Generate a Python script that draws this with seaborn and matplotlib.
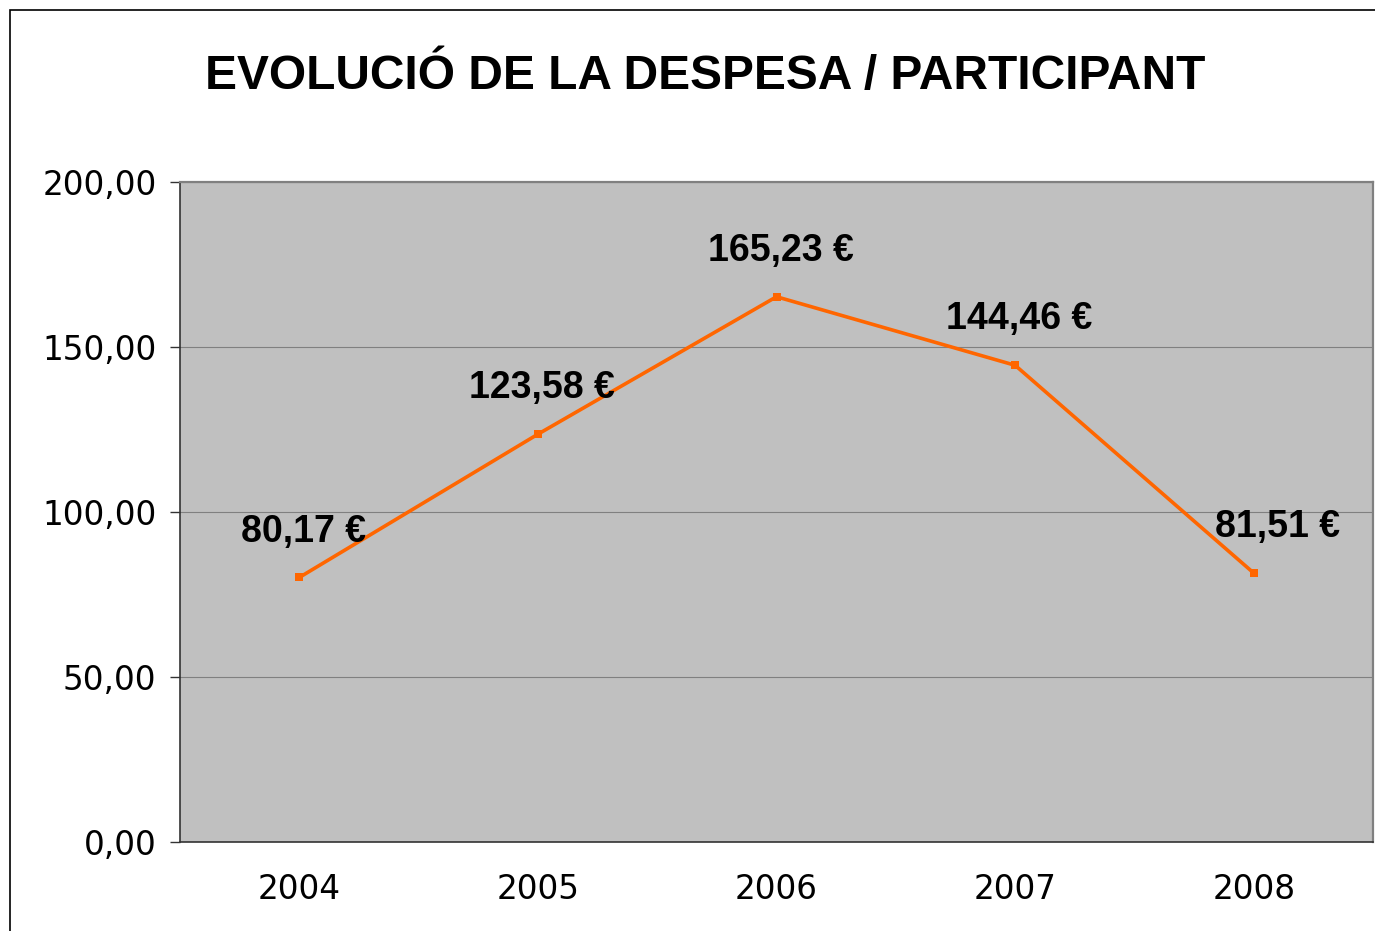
import numpy as np
import pandas as pd
import seaborn as sns
import matplotlib.pyplot as plt
from matplotlib.patches import Rectangle

# data
years = ['2004', '2005', '2006', '2007', '2008']
despesa = [80.17, 123.58, 165.23, 144.46, 81.51]
y_ticks = [0, 50, 100, 150, 200]

df = pd.DataFrame({'any': np.arange(len(years)), 'despesa': despesa})


def fmt_comma(v, dec=2):
    return ('%.*f' % (dec, v)).replace('.', ',')


sns.set_style("white")
plt.rcParams['font.family'] = ['DejaVu Sans']
plt.rcParams['text.color'] = 'black'
plt.rcParams['xtick.color'] = 'black'
plt.rcParams['ytick.color'] = 'black'

fig = plt.figure(figsize=(13.75, 9.31), dpi=100)
ax = fig.add_axes([180 / 1375, 89 / 931, 1193 / 1375, 660 / 931])

# outer frame of the chart object
fig.patches.append(Rectangle((10 / 1375, -0.05), 1.1, (921 / 931) + 0.05,
                             transform=fig.transFigure, fill=False,
                             edgecolor='black', linewidth=1.2))

ax.set_facecolor('#C0C0C0')
sns.lineplot(data=df, x='any', y='despesa', ax=ax, color='#FF6600',
             linewidth=2.6, marker='s', markersize=6, markeredgewidth=0)

for i, v in enumerate(despesa):
    # last label is pushed right so it stays off the line
    dx = 17 if i == len(despesa) - 1 else 3
    ax.annotate(fmt_comma(v) + ' €', xy=(i, v), xytext=(dx, 33),
                textcoords='offset points', ha='center', va='center',
                fontsize=27, fontweight='bold', family='Liberation Sans',
                color='black')

ax.set_xlim(-0.5, len(years) - 0.5)
ax.set_ylim(0, 200)
ax.set_yticks(y_ticks)
ax.set_yticklabels([fmt_comma(t) for t in y_ticks], fontsize=23.5)
ax.set_xticks(range(len(years)))
ax.set_xticklabels(years, fontsize=23.5)
ax.set_xticks(np.arange(-0.5, len(years)), minor=True)
ax.tick_params(axis='x', which='major', length=0, pad=22)
ax.tick_params(axis='x', which='minor', length=7, width=1, color='#333333', direction='out')
ax.tick_params(axis='y', length=7, width=1, color='#333333', pad=10, direction='out')
ax.tick_params(left=True)

ax.grid(axis='y', color='#808080', linewidth=0.8)
ax.grid(axis='x', visible=False)
ax.set_axisbelow(True)
ax.set_xlabel('')
ax.set_ylabel('')

for s in ['left', 'bottom']:
    ax.spines[s].set_color('#333333')
    ax.spines[s].set_linewidth(1.2)
for s in ['top', 'right']:
    ax.spines[s].set_color('#808080')
    ax.spines[s].set_linewidth(1.6)

fig.text(705 / 1375, 1 - 76 / 931, 'EVOLUCIÓ DE LA DESPESA / PARTICIPANT',
         ha='center', va='center', fontsize=34.5, fontweight='bold',
         family='Liberation Sans', color='black')

fig.savefig('out.png', dpi=100)
